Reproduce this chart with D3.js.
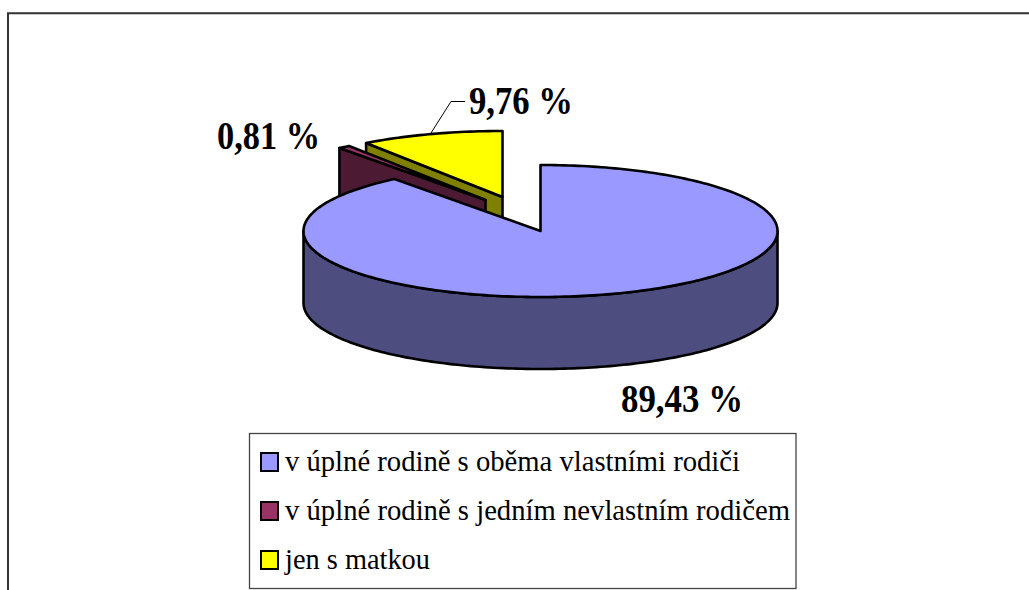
<!DOCTYPE html>
<html><head><meta charset="utf-8">
<script src="https://cdn.jsdelivr.net/npm/d3@7"></script>
<style>html,body{margin:0;background:#fff}svg{display:block}text{font-family:"Liberation Serif",serif;fill:#000}</style>
</head><body><svg id="c" width="1029" height="590"></svg>
<script>
const categories = ["v úplné rodině s oběma vlastními rodiči","v úplné rodině s jedním nevlastním rodičem","jen s matkou"];
const values = [89.43, 0.81, 9.76];
const labels = ["89,43 %","0,81 %","9,76 %"];
const topColors = ["#9999FF","#993366","#FFFF00"];
const sideColors = ["#4D4D80","#4D1A33","#808000"];
const offsets = [[0,0],[-55,-31],[-38,-34]];
const labelPos = [[621,412,122],[217,149,103],[469,114,104]];
const legendWidths = [455,505,145];

const svg = d3.select("#c");
svg.append("path").attr("d","M8,590V13.3H1029").attr("fill","none").attr("stroke","#333").attr("stroke-width",2);

const cx=540.5, cy=231, rx=237, ry=66, depth=72;
const arcs = d3.pie().sort(null).value(d=>d)(values);
const px = d3.scaleLinear().domain([-1,1]).range([cx-rx,cx+rx]);
const py = d3.scaleLinear().domain([-1,1]).range([cy-ry,cy+ry]);
const line = d3.line();
function rim(a0,a1,step=0.02){
  const n=Math.max(2,Math.ceil((a1-a0)/step)), r=[];
  for(let i=0;i<=n;i++){const a=a0+(a1-a0)*i/n;r.push([px(Math.sin(a)),py(-Math.cos(a))]);}
  return r;
}
const g = svg.append("g").attr("stroke","#000").attr("stroke-width",2.6).attr("stroke-linejoin","round");
[2,1,0].forEach(i=>{
  const a=arcs[i], [dx,dy]=offsets[i];
  const s=g.append("g").attr("transform",`translate(${dx},${dy})`);
  const pts=rim(a.startAngle,a.endAngle);
  const apex=[px(0),py(0)];
  if(i===0){
    const wall=rim(Math.PI/2,3*Math.PI/2);
    const low=wall.map(p=>[p[0],p[1]+depth]).reverse();
    s.append("path").attr("d",line(wall.concat(low))+"Z").attr("fill",sideColors[i]);
  } else {
    const outer=pts[0];
    s.append("path").attr("d",line([outer,apex,[apex[0],apex[1]+depth],[outer[0],outer[1]+depth]])+"Z").attr("fill",sideColors[i]);
  }
  s.append("path").attr("d",line([apex].concat(pts))+"Z").attr("fill",topColors[i]);
});

labels.forEach((t,i)=>{
  svg.append("text").attr("x",labelPos[i][0]).attr("y",labelPos[i][1])
    .attr("font-size",40).attr("font-weight","bold")
    .attr("textLength",labelPos[i][2]).attr("lengthAdjust","spacingAndGlyphs").text(t);
});
svg.append("path").attr("d",line([[431,133],[451,101.5],[465,101.5]])).attr("fill","none").attr("stroke","#000").attr("stroke-width",1);

const legend = svg.append("g");
legend.append("rect").attr("x",249.5).attr("y",433.5).attr("width",546.5).attr("height",155).attr("fill","#fff").attr("stroke","#444").attr("stroke-width",1.3);
const ly = d3.scalePoint().domain(categories).range([462,560]);
categories.forEach((c,i)=>{
  legend.append("rect").attr("x",261).attr("y",ly(c)-9).attr("width",17).attr("height",18).attr("fill",topColors[i]).attr("stroke","#000").attr("stroke-width",2);
  legend.append("text").attr("x",285).attr("y",ly(c)+8.5).attr("font-size",30)
    .attr("textLength",legendWidths[i]).attr("lengthAdjust","spacingAndGlyphs").text(c);
});
</script></body></html>
